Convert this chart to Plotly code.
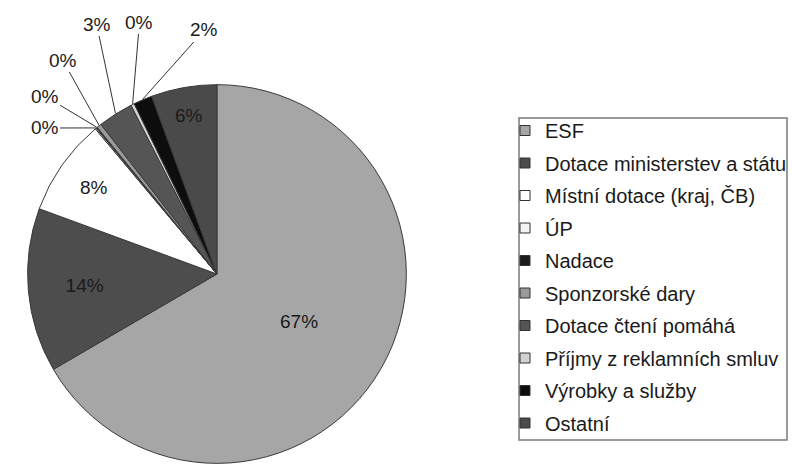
import math
import plotly.graph_objects as go

categories = ["ESF", "Dotace ministerstev a státu", "Místní dotace (kraj, ČB)", "ÚP",
              "Nadace", "Sponzorské dary", "Dotace čtení pomáhá",
              "Příjmy z reklamních smluv", "Výrobky a služby", "Ostatní"]
values = [66.6, 14.0, 8.3, 0.1, 0.1, 0.4, 3.0, 0.3, 1.6, 5.6]
colors = ["#a6a6a6", "#4d4d4d", "#ffffff", "#f4f4f4", "#1c1c1c",
          "#9a9a9a", "#555555", "#d2d2d2", "#0d0d0d", "#4a4a4a"]

# label placement (pixel positions of outside labels for the small slices) -- layout only
outside_label_px = {3: (45, 128), 4: (45, 96), 5: (63, 60), 6: (97, 24), 7: (140, 22), 8: (205, 30)}

W, H = 792, 466
dom_x = [0.035, 0.515]
dom_y = [0.004, 0.82]
FONT = "Liberation Sans, Arial"

total = sum(values)
positions = ["none" if i in outside_label_px else "inside" for i in range(len(values))]

fig = go.Figure()
fig.add_trace(go.Pie(
    labels=categories, values=values, sort=False, direction="clockwise", rotation=0,
    marker=dict(colors=colors, line=dict(color="#3a3a3a", width=1)),
    texttemplate="%{percent:.0%}", textposition=positions,
    insidetextorientation="horizontal",
    textfont=dict(family=FONT, size=19, color="#1a1a1a"),
    showlegend=False,
    domain=dict(x=dom_x, y=dom_y),
    hoverinfo="label+percent",
))

# pie geometry in pixels (derived from the domain)
cx = (dom_x[0] + dom_x[1]) / 2 * W
cy = H - (dom_y[0] + dom_y[1]) / 2 * H
r = min((dom_x[1] - dom_x[0]) * W, (dom_y[1] - dom_y[0]) * H) / 2

cum = 0.0
for i, v in enumerate(values):
    mid = (cum + v / 2) / total * 2 * math.pi
    cum += v
    if i not in outside_label_px:
        continue
    px = cx + r * math.sin(mid)
    py = cy - r * math.cos(mid)
    tx, ty = outside_label_px[i]
    fig.add_annotation(
        x=px / W, y=1 - py / H, xref="paper", yref="paper",
        ax=tx - px, ay=ty - py, axref="pixel", ayref="pixel",
        text=f"{round(v / total * 100)}%", showarrow=True, arrowhead=0,
        arrowwidth=1, arrowcolor="#333333", standoff=0,
        font=dict(family=FONT, size=19, color="#1a1a1a"),
    )

for c, col in zip(categories, colors):
    fig.add_trace(go.Scatter(
        x=[None], y=[None], mode="markers", name=c, legendgroup=c,
        marker=dict(symbol="square", size=10, color=col, line=dict(color="#333333", width=1)),
    ))

fig.add_shape(type="rect", xref="paper", yref="paper",
              x0=521 / W, x1=790 / W, y0=1 - 440 / H, y1=1 - 118 / H,
              line=dict(color="#7a7a7a", width=1.5), fillcolor="rgba(0,0,0,0)")

fig.update_layout(
    width=W, height=H, margin=dict(l=0, r=0, t=0, b=0),
    paper_bgcolor="white", plot_bgcolor="white",
    xaxis=dict(visible=False), yaxis=dict(visible=False),
    legend=dict(x=507 / W, y=1 - 111 / H, xanchor="left", yanchor="top",
                font=dict(family=FONT, size=20, color="#1a1a1a"),
                tracegroupgap=3.5, itemwidth=30, bgcolor="rgba(0,0,0,0)"),
    font=dict(family=FONT),
)

fig.write_html("out.html")
